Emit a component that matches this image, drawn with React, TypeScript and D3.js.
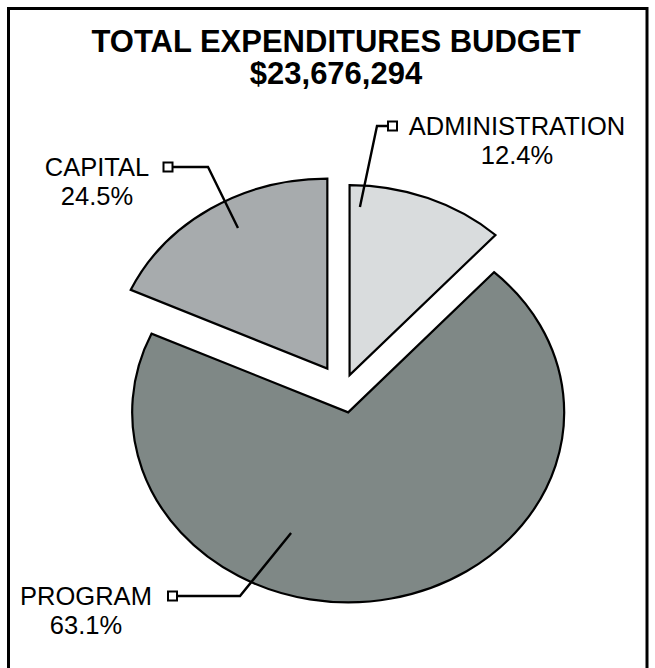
import * as d3 from "d3";

// Slice order runs clockwise from 12 o'clock, as in the reference
const categories = ["ADMINISTRATION", "PROGRAM", "CAPITAL"];
// slice sizes as they are drawn in the picture (the printed labels differ)
const shares = [11.8, 70.0, 18.2];
const percentLabels = ["12.4%", "63.1%", "24.5%"];
const titleLines = ["TOTAL EXPENDITURES BUDGET", "$23,676,294"];

const FILLS = ["#d9dcdd", "#7f8886", "#a7abad"];
const FONT = "'Liberation Sans', Arial, Helvetica, sans-serif";

const W = 655;
const H = 668;
const CX = 343;
const CY = 390;
const RX = 216;
const RY = 190;
const EXPLODE = [0.084, 0.12, 0.134];

// where each callout sits, and where its leader ends inside the slice
const LABELS = [
  { x: 517, y: 135, markerX: 392.5, side: -1, elbowX: 377, tipAngle: 3.1, tipR: 0.886 },
  { x: 86, y: 605, markerX: 172.5, side: 1, elbowX: 240, tipAngle: 202.6, tipR: 0.688 },
  { x: 97, y: 176, markerX: 168, side: 1, elbowX: 208, tipAngle: 330.8, tipR: 0.848 },
];

type Row = { name: string; share: number };

export default function App() {
  const rows: Row[] = categories.map((name, i) => ({ name, share: shares[i] }));
  const arcs = d3.pie<Row>().sort(null).value((d) => d.share)(rows);

  const arcGen = d3.arc<d3.PieArcDatum<Row>>().innerRadius(0).outerRadius(1);
  if ((arcGen as any).digits) (arcGen as any).digits(6);

  // flattened pie: unit circle scaled to RX x RY
  const apex = (a: d3.PieArcDatum<Row>, i: number) => {
    const mid = (a.startAngle + a.endAngle) / 2;
    return {
      x: CX + RX * EXPLODE[i] * Math.sin(mid),
      y: CY - RY * EXPLODE[i] * Math.cos(mid),
    };
  };

  return (
    <svg
      width={W}
      height={H}
      style={{ position: "absolute", left: 0, top: 0, background: "#fff" }}
    >
      <rect x={8.5} y={8.5} width={638.5} height={670} fill="#fff" stroke="#000" strokeWidth={3} />

      {titleLines.map((t, i) => (
        <text
          key={t}
          x={336}
          y={52 + i * 32}
          textAnchor="middle"
          fontFamily={FONT}
          fontWeight="bold"
          fontSize={31}
          fill="#000"
        >
          {t}
        </text>
      ))}

      {arcs.map((a, i) => {
        const p = apex(a, i);
        return (
          <path
            key={a.data.name}
            d={arcGen(a) || ""}
            transform={`translate(${p.x},${p.y}) scale(${RX},${RY})`}
            fill={FILLS[i]}
            stroke="#000"
            strokeWidth={2.2}
            vectorEffect="non-scaling-stroke"
            strokeLinejoin="miter"
          />
        );
      })}

      {arcs.map((a, i) => {
        const p = apex(a, i);
        const L = LABELS[i];
        const ang = (L.tipAngle * Math.PI) / 180;
        const tipX = p.x + RX * L.tipR * Math.sin(ang);
        const tipY = p.y - RY * L.tipR * Math.cos(ang);
        const my = L.y - 9;
        const edgeX = L.markerX + L.side * 5;
        return (
          <g key={"lab-" + a.data.name}>
            <polyline
              points={`${edgeX},${my} ${L.elbowX},${my} ${tipX},${tipY}`}
              fill="none"
              stroke="#000"
              strokeWidth={2.4}
            />
            <rect
              x={L.markerX - 4.5}
              y={my - 4.5}
              width={9}
              height={9}
              fill="#fff"
              stroke="#000"
              strokeWidth={2}
            />
            <text
              x={L.x}
              y={L.y}
              textAnchor="middle"
              fontFamily={FONT}
              fontSize={25.5}
              fill="#000"
            >
              {a.data.name}
            </text>
            <text
              x={L.x}
              y={L.y + 29}
              textAnchor="middle"
              fontFamily={FONT}
              fontSize={25.5}
              fill="#000"
            >
              {percentLabels[i]}
            </text>
          </g>
        );
      })}
    </svg>
  );
}
